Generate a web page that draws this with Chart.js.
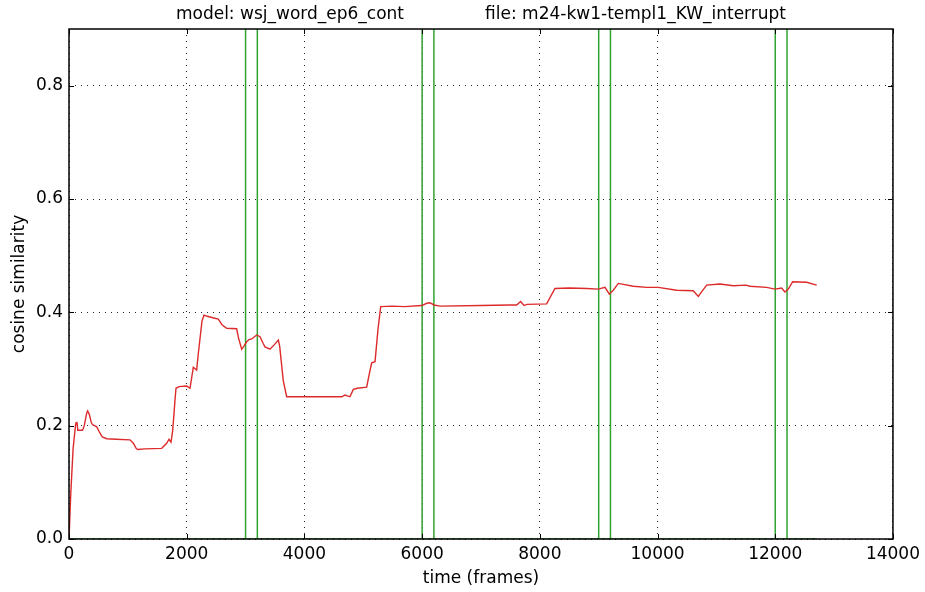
<!DOCTYPE html>
<html>
<head>
<meta charset="utf-8">
<script src="https://cdn.jsdelivr.net/npm/chart.js@4.4.1/dist/chart.umd.min.js"></script>
<style>
  html, body { margin: 0; padding: 0; background: #ffffff; }
  canvas { display: block; }
</style>
</head>
<body>
<canvas id="c" width="925" height="592"></canvas>
<script>
// ---- data ----
const titleText = "model: wsj_word_ep6_cont               file: m24-kw1-templ1_KW_interrupt";
const xLabel = "time (frames)";
const yLabel = "cosine similarity";
const xTicks = [0, 2000, 4000, 6000, 8000, 10000, 12000, 14000];
const yTicks = [0.0, 0.2, 0.4, 0.6, 0.8];
const xRange = [0, 14000];
const yRange = [0, 0.9];

const frames = [0, 30, 70, 110, 119, 135, 150, 230, 260, 300, 317, 345, 380, 400, 470, 520, 566, 640, 800, 1036,
  1093, 1140, 1167, 1291, 1575, 1660, 1699, 1733, 1760, 1780, 1801, 1818, 1870, 2000, 2056, 2085, 2112, 2169, 2200, 2260,
  2294, 2350, 2460, 2537, 2600, 2679, 2849, 2880, 2934, 2970, 3019, 3060, 3104, 3189, 3245, 3300, 3330, 3415, 3490, 3557,
  3580, 3640, 3698, 4010, 4633, 4689, 4740, 4774, 4831, 4900, 5058, 5100, 5143, 5200, 5250, 5296, 5500, 5700, 5993, 6080,
  6134, 6200, 6303, 7000, 7493, 7606, 7674, 7731, 7780, 8116, 8257, 8500, 8800, 8993, 9107, 9181, 9248, 9333, 9588, 9815,
  10013, 10325, 10607, 10692, 10834, 11060, 11287, 11500, 11570, 11853, 11995, 12108, 12165, 12222, 12296, 12534, 12704];
const similarity = [0, 0.08, 0.16, 0.2, 0.205, 0.207, 0.192, 0.192, 0.200, 0.222, 0.226, 0.220, 0.205, 0.202, 0.198, 0.188, 0.180, 0.177, 0.176, 0.175,
  0.169, 0.160, 0.158, 0.159, 0.160, 0.169, 0.176, 0.171, 0.190, 0.216, 0.245, 0.266, 0.269, 0.270, 0.266, 0.285, 0.303, 0.298, 0.330, 0.385,
  0.395, 0.393, 0.390, 0.388, 0.378, 0.372, 0.371, 0.355, 0.335, 0.340, 0.348, 0.352, 0.353, 0.360, 0.357, 0.345, 0.339, 0.335, 0.343, 0.351,
  0.340, 0.280, 0.251, 0.251, 0.251, 0.254, 0.252, 0.251, 0.264, 0.266, 0.268, 0.290, 0.311, 0.313, 0.370, 0.410, 0.411, 0.410, 0.412, 0.416,
  0.417, 0.413, 0.411, 0.412, 0.413, 0.413, 0.419, 0.412, 0.414, 0.415, 0.442, 0.443, 0.442, 0.441, 0.444, 0.432, 0.439, 0.451, 0.446, 0.444,
  0.444, 0.439, 0.438, 0.428, 0.448, 0.450, 0.447, 0.448, 0.446, 0.444, 0.441, 0.443, 0.436, 0.441, 0.454, 0.453, 0.448];

const markerFrames = [3000, 3200, 6000, 6200, 9000, 9200, 12000, 12200];
const baselineFrames = [0, 12704];
const baselineValues = [0, 0];

// ---- styles ----
const FONT = "DejaVu Sans";
const RED = "#dd2a2a";
const GREEN = "#2fa32f";

const datasets = [];
datasets.push({
  label: "similarity",
  data: frames.map((f, i) => ({ x: f, y: similarity[i] })),
  borderColor: RED, borderWidth: 1.4, pointRadius: 0, tension: 0, fill: false
});
markerFrames.forEach(f => {
  datasets.push({
    label: "marker " + f,
    data: [{ x: f, y: yRange[0] }, { x: f, y: yRange[1] }],
    borderColor: GREEN, borderWidth: 1.5, pointRadius: 0, fill: false
  });
});
datasets.push({
  label: "baseline",
  data: baselineFrames.map((f, i) => ({ x: f, y: baselineValues[i] })),
  borderColor: GREEN, borderWidth: 1.5, pointRadius: 0, fill: false
});

const framePlugin = {
  id: "frame",
  afterDraw(chart) {
    const { ctx, chartArea: a, scales } = chart;
    ctx.save();
    ctx.strokeStyle = "#000";
    ctx.lineWidth = 1;
    const L = 5;
    ctx.beginPath();
    scales.x.ticks.forEach(t => {
      const px = Math.round(scales.x.getPixelForValue(t.value)) + 0.5;
      ctx.moveTo(px, a.bottom); ctx.lineTo(px, a.bottom - L);
      ctx.moveTo(px, a.top); ctx.lineTo(px, a.top + L);
    });
    scales.y.ticks.forEach(t => {
      const py = Math.round(scales.y.getPixelForValue(t.value)) + 0.5;
      ctx.moveTo(a.left, py); ctx.lineTo(a.left + L, py);
      ctx.moveTo(a.right, py); ctx.lineTo(a.right - L, py);
    });
    ctx.stroke();
    ctx.lineWidth = 1.5;
    ctx.strokeRect(a.left, a.top, a.right - a.left, a.bottom - a.top);
    // title over the plot area
    ctx.fillStyle = "#000";
    ctx.font = "17px '" + FONT + "'";
    ctx.textAlign = "center";
    ctx.textBaseline = "middle";
    ctx.fillText(titleText, (a.left + a.right) / 2, 15);
    ctx.restore();
  }
};

new Chart(document.getElementById("c"), {
  type: "line",
  data: { datasets },
  options: {
    responsive: false,
    animation: false,
    devicePixelRatio: 1,
    layout: { padding: { top: 29, right: 32, left: 0, bottom: 0 } },
    plugins: { legend: { display: false }, tooltip: { enabled: false }, title: { display: false } },
    scales: {
      x: {
        type: "linear", min: xRange[0], max: xRange[1],
        afterBuildTicks: s => { s.ticks = xTicks.map(v => ({ value: v })); },
        afterFit: s => { s.height = 53; },
        grid: { color: "rgba(0,0,0,0.85)", lineWidth: 1, drawTicks: false },
        border: { display: false, dash: [1, 5] },
        ticks: { color: "#000", font: { family: FONT, size: 17 }, padding: 5, maxRotation: 0,
                 callback: v => String(v) },
        title: { display: true, text: xLabel, color: "#000", font: { family: FONT, size: 17 }, padding: { top: 0, bottom: 3 } }
      },
      y: {
        type: "linear", min: yRange[0], max: yRange[1],
        afterBuildTicks: s => { s.ticks = yTicks.map(v => ({ value: v })); },
        afterFit: s => { s.width = 69; },
        grid: { color: "rgba(0,0,0,0.85)", lineWidth: 1, drawTicks: false },
        border: { display: false, dash: [1, 5] },
        ticks: { color: "#000", font: { family: FONT, size: 17 }, padding: 6,
                 callback: v => Number(v).toFixed(1) },
        title: { display: true, text: yLabel, color: "#000", font: { family: FONT, size: 17 }, padding: { top: 9, bottom: 0 } }
      }
    }
  },
  plugins: [framePlugin]
});
</script>
</body>
</html>
